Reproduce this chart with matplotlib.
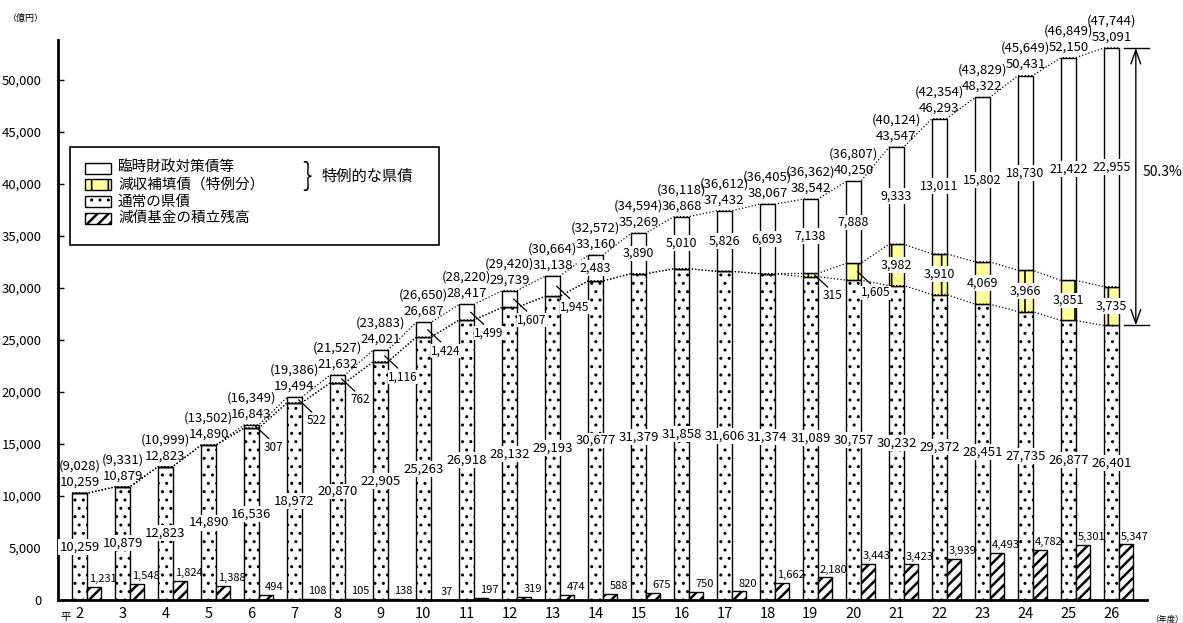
import numpy as np
import matplotlib
matplotlib.use("Agg")
import matplotlib.pyplot as plt
from matplotlib.patches import Rectangle

plt.rcParams['font.family'] = ['Noto Sans CJK JP', 'DejaVu Sans']

# 平成2～26年度 県債残高（億円）
years = [str(y) for y in range(2, 27)]
regular = [10259, 10879, 12823, 14890, 16536, 18972, 20870, 22905, 25263, 26918,
           28132, 29193, 30677, 31379, 31858, 31606, 31374, 31089, 30757, 30232,
           29372, 28451, 27735, 26877, 26401]          # 通常の県債
reduced = [0] * 17 + [315, 1605, 3982, 3910, 4069, 3966, 3851, 3735]   # 減収補填債（特例分）
temporary = [0, 0, 0, 0, 307, 522, 762, 1116, 1424, 1499, 1607, 1945, 2483, 3890,
             5010, 5826, 6693, 7138, 7888, 9333, 13011, 15802, 18730, 21422, 22955]  # 臨時財政対策債等
fund = [1231, 1548, 1824, 1388, 494, 108, 105, 138, 37, 197, 319, 474, 588, 675,
        750, 820, 1662, 2180, 3443, 3423, 3939, 4493, 4782, 5301, 5347]   # 減債基金の積立残高
paren = [9028, 9331, 10999, 13502, 16349, 19386, 21527, 23883, 26650, 28220, 29420,
         30664, 32572, 34594, 36118, 36612, 36405, 36362, 36807, 40124, 42354, 43829,
         45649, 46849, 47744]
share_label = "50.3%"

W, H = 1183, 623
fig = plt.figure(figsize=(W / 100, H / 100), dpi=100)
ax = fig.add_axes([58 / W, 1 - 600 / H, (1147 - 58) / W, (600 - 40) / H])

x = np.arange(len(years))
w = 0.34
reg = np.array(regular)
red = np.array(reduced)
tmp = np.array(temporary)
total = reg + red + tmp

# hatch styles: (pattern, hatch line width)
DOTS, STRIPES, TICKS = ("..", 1.0), ("///", 1.8), ("|", 1.2)

with plt.rc_context({"hatch.linewidth": DOTS[1]}):
    ax.bar(x, reg, w, color="white", edgecolor="black", hatch=DOTS[0], lw=1, zorder=2)
with plt.rc_context({"hatch.linewidth": TICKS[1]}):
    ax.bar(x, red, w, bottom=reg, color="#ffff99", edgecolor="black", hatch=TICKS[0],
           lw=1, zorder=2)
ax.bar(x, tmp, w, bottom=reg + red, color="white", edgecolor="black", lw=1, zorder=2)
with plt.rc_context({"hatch.linewidth": STRIPES[1]}):
    ax.bar(x + w, fund, w, color="white", edgecolor="black", hatch=STRIPES[0], lw=1, zorder=2)


def edge_line(vals):
    xs = np.column_stack([x - w / 2, x + w / 2]).ravel()
    ys = np.repeat(vals, 2)
    ax.plot(xs, ys, ls=":", lw=0.9, color="black", zorder=2.5)


edge_line(total)
edge_line(reg + red)
edge_line(reg)

box = dict(facecolor="white", edgecolor="none", pad=1.0)

# totals and (parenthesised) figures above each bar
for i in x:
    ax.text(i, total[i] + 1050, f"{total[i]:,}", ha="center", va="center", fontsize=9.5)
    ax.text(i, total[i] + 2600, f"({paren[i]:,})", ha="center", va="center", fontsize=9.5)
    ax.text(i, reg[i] / 2, f"{reg[i]:,}", ha="center", va="center", fontsize=9.5,
            bbox=box, zorder=4)
    ax.text(i + w + 0.2, fund[i] + 750, f"{fund[i]:,}", ha="center", va="center",
            fontsize=8, zorder=4)


def leader(i, mid, val):
    ax.plot([i + 0.1, i + 0.4], [mid, mid - 1150], color="black", lw=0.9, zorder=3)
    ax.text(i + 0.52, mid - 2000, f"{val:,}", ha="center", va="center", fontsize=8.5,
            bbox=dict(facecolor="white", edgecolor="none", pad=0.3), zorder=4)


for i in x:
    if tmp[i] == 0:
        continue
    mid = reg[i] + red[i] + tmp[i] / 2
    if tmp[i] < 2000:
        leader(i, mid, tmp[i])
    else:
        ax.text(i, mid, f"{tmp[i]:,}", ha="center", va="center", fontsize=9,
                bbox=box, zorder=4)

for i in x:
    if red[i] == 0:
        continue
    mid = reg[i] + red[i] / 2
    if red[i] < 2000:
        leader(i, mid, red[i])
    else:
        ax.text(i, mid, f"{red[i]:,}", ha="center", va="center", fontsize=9,
                bbox=box, zorder=4)

# share of special bonds in year 26
last = len(x) - 1
xa = last + 0.57
ax.plot([last + 0.3, last + 0.88], [total[last]] * 2, color="black", lw=1, clip_on=False)
ax.plot([last + 0.3, last + 0.88], [reg[last]] * 2, color="black", lw=1, clip_on=False)
ax.annotate("", xy=(xa, total[last]), xytext=(xa, reg[last]),
            arrowprops=dict(arrowstyle="<->,head_length=1.0,head_width=0.35",
                            lw=1, color="black", shrinkA=0, shrinkB=0),
            annotation_clip=False)
ax.text(last + 0.72, 41150, share_label, ha="left", va="center", fontsize=10,
        clip_on=False)

ax.set_xlim(-0.5, 24.83)
ax.set_ylim(0, 53850)
ax.set_yticks(range(0, 50001, 5000))
ax.set_yticklabels([f"{v:,}" for v in range(0, 50001, 5000)], fontsize=9.5)
ax.set_xticks(x)
ax.set_xticklabels(years, fontsize=10.5)
ax.tick_params(axis="x", length=0, pad=5)
ax.tick_params(axis="y", direction="in", length=4, width=1, pad=12)
for s in ("top", "right"):
    ax.spines[s].set_visible(False)
for s in ("left", "bottom"):
    ax.spines[s].set_linewidth(2)

fig.text(8 / W, 1 - 18 / H, "（億円）", fontsize=6.5, va="center", ha="left")
fig.text(66 / W, 1 - 617 / H, "平", fontsize=7.5, va="center", ha="center")
fig.text(1150 / W, 1 - 619 / H, "（年度）", fontsize=6, va="center", ha="left")


# legend box, placed in pixel positions
def fx(px):
    return px / W


def fy(py):
    return 1 - py / H


fig.patches.append(Rectangle((fx(70), fy(245)), fx(439) - fx(70), fy(147) - fy(245),
                             transform=fig.transFigure, facecolor="white",
                             edgecolor="black", lw=1.2, zorder=5))
entries = [
    ("臨時財政対策債等", "white", None),
    ("減収補填債（特例分）", "#ffff99", TICKS),
    ("通常の県債", "white", DOTS),
    ("減債基金の積立残高", "white", STRIPES),
]
for k, (label, face, hatch) in enumerate(entries):
    yc = 168 + k * 16.7
    with plt.rc_context({"hatch.linewidth": hatch[1] if hatch else 1.0}):
        fig.patches.append(Rectangle((fx(85), fy(yc + 5.5)), fx(111) - fx(85),
                                     fy(yc - 5.5) - fy(yc + 5.5),
                                     transform=fig.transFigure, facecolor=face,
                                     hatch=hatch[0] if hatch else None,
                                     edgecolor="black", lw=1, zorder=6))
    fig.text(fx(118), fy(yc), label, fontsize=10.5, va="center", ha="left", zorder=7)

fig.text(fx(302), fy(176), "}", fontsize=22, va="center", ha="left", zorder=7,
         fontweight="light")
fig.text(fx(322), fy(176), "特例的な県債", fontsize=11, va="center", ha="left", zorder=7)

fig.savefig("out.png", dpi=100)
